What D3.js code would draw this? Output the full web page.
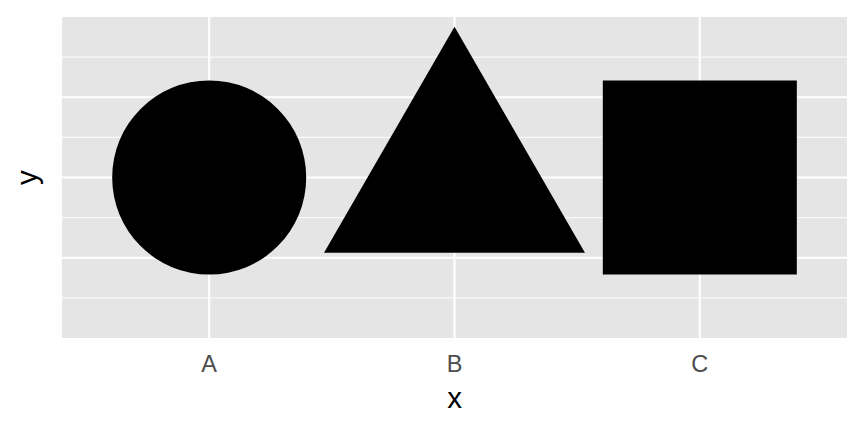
<!DOCTYPE html>
<html>
<head>
<meta charset="utf-8">
<script src="https://cdn.jsdelivr.net/npm/d3@7"></script>
<style>
  html, body { margin: 0; padding: 0; background: #fff; }
  svg { display: block; font-family: "Liberation Sans", Arial, sans-serif; }
</style>
</head>
<body>
<div id="chart"></div>
<script>
// data
let categories = ["A", "B", "C"];
let yValues = [0, 0, 0];
let shapes = ["circle", "triangle", "square"];
let yMajorBreaks = [-0.5, 0, 0.5];
let yMinorBreaks = [-0.75, -0.25, 0.25, 0.75];

let width = 864;
let height = 432;
let margin = {top: 17, right: 17, bottom: 94, left: 62};
let pointSize = 194; // diameter / side in px

let svg = d3.select("#chart").append("svg")
    .attr("width", width)
    .attr("height", height);

let pw = width - margin.left - margin.right;
let ph = height - margin.top - margin.bottom;

// discrete x with ggplot-like 0.6 expansion
let x = d3.scaleLinear()
    .domain([0.4, categories.length + 0.6])
    .range([margin.left, margin.left + pw]);
let y = d3.scaleLinear()
    .domain([-1, 1])
    .range([margin.top + ph, margin.top]);

svg.append("rect")
    .attr("x", margin.left)
    .attr("y", margin.top)
    .attr("width", pw)
    .attr("height", ph)
    .attr("fill", "#E5E5E5");

let grid = svg.append("g");
grid.selectAll(".minor")
    .data(yMinorBreaks)
    .join("line")
        .attr("x1", margin.left).attr("x2", margin.left + pw)
        .attr("y1", d => y(d)).attr("y2", d => y(d))
        .attr("stroke", "#FAFAFA").attr("stroke-width", 1.1);
grid.selectAll(".major")
    .data(yMajorBreaks)
    .join("line")
        .attr("x1", margin.left).attr("x2", margin.left + pw)
        .attr("y1", d => y(d)).attr("y2", d => y(d))
        .attr("stroke", "#fff").attr("stroke-width", 2.13);
grid.selectAll(".vmajor")
    .data(categories)
    .join("line")
        .attr("y1", margin.top).attr("y2", margin.top + ph)
        .attr("x1", (d, i) => x(i + 1)).attr("x2", (d, i) => x(i + 1))
        .attr("stroke", "#fff").attr("stroke-width", 2.13);

// symbol area for each shape from a common size
function symbolFor(shape) {
    if (shape == "circle") {
        return d3.symbol(d3.symbolCircle, Math.PI * Math.pow(pointSize / 2, 2))();
    } else if (shape == "square") {
        return d3.symbol(d3.symbolSquare, pointSize * pointSize)();
    } else {
        let side = pointSize * 1.345;
        return d3.symbol(d3.symbolTriangle, Math.sqrt(3) / 4 * side * side)();
    }
}

let points = categories.map((c, i) => ({cat: c, idx: i + 1, y: yValues[i], shape: shapes[i]}));

svg.append("g").selectAll("path")
    .data(points)
    .join("path")
        .attr("transform", d => `translate(${x(d.idx)},${y(d.y)})`)
        .attr("d", d => symbolFor(d.shape))
        .attr("fill", "#000");

// x axis labels
svg.append("g").selectAll("text")
    .data(categories)
    .join("text")
        .attr("x", (d, i) => x(i + 1))
        .attr("y", 372)
        .attr("text-anchor", "middle")
        .attr("font-size", 23.5)
        .attr("fill", "#4D4D4D")
        .text(d => d);

// axis titles
svg.append("text")
    .attr("x", margin.left + pw / 2)
    .attr("y", 408)
    .attr("text-anchor", "middle")
    .attr("font-size", 29.5)
    .attr("fill", "#000")
    .text("x");

svg.append("text")
    .attr("transform", `translate(36.5,${margin.top + ph / 2}) rotate(-90)`)
    .attr("text-anchor", "middle")
    .attr("font-size", 29.5)
    .attr("fill", "#000")
    .text("y");
</script>
</body>
</html>
